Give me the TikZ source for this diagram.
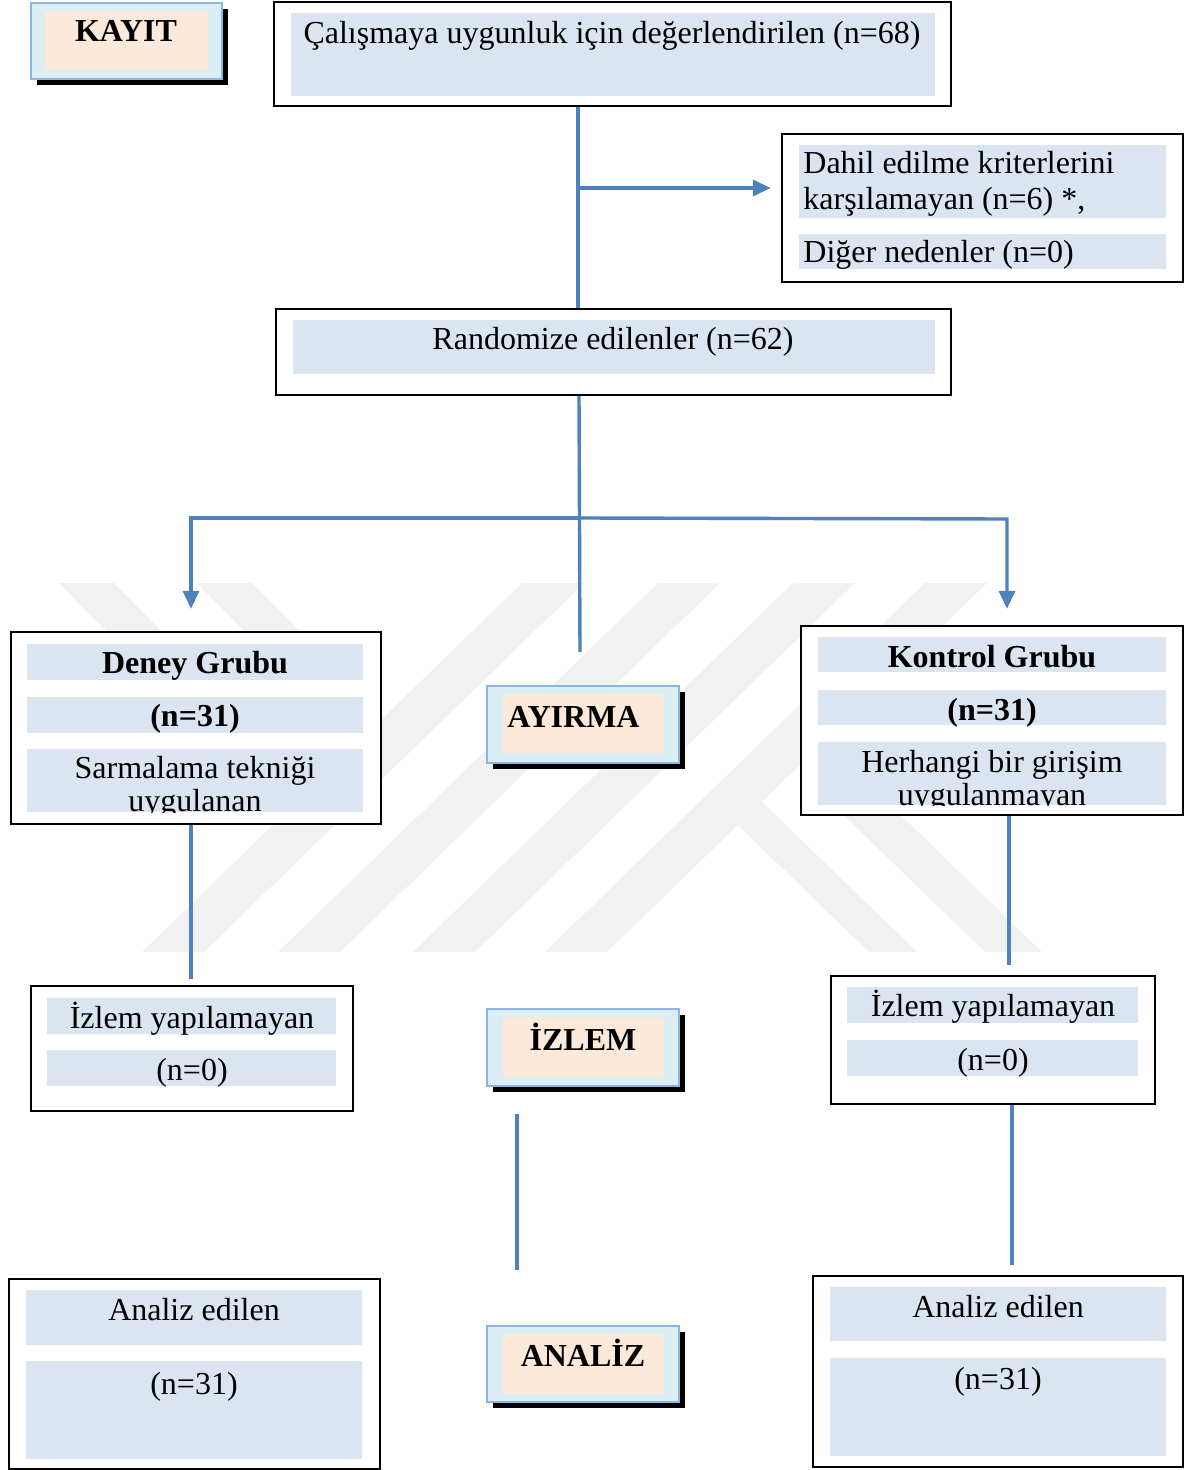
\documentclass[tikz,border=0pt]{standalone}
\usepackage{fontspec}
\setmainfont{Liberation Serif}
\usetikzlibrary{arrows.meta,fit,shadows}
\definecolor{lineblue}{HTML}{4F81BD}
\definecolor{rowblue}{HTML}{DBE5F1}
\definecolor{peach}{HTML}{FDE9D9}
\definecolor{stageblue}{HTML}{DAEEF3}
\definecolor{stageedge}{HTML}{8EB4E3}
\definecolor{wm}{HTML}{F1F1F1}
\begin{document}
\begin{tikzpicture}[x=0.5pt,y=-0.5pt,
  outerbox/.style={draw=black, line width=1.2pt, fill=white, inner sep=0pt},
  row/.style={fill=rowblue},
  conn/.style={draw=lineblue, line width=1.7pt},
  arr/.style={conn, -{Triangle[length=9pt,width=8pt]}},
  txt/.style={font=\fontsize{16}{19}\selectfont, inner sep=0pt, anchor=base},
  btxt/.style={txt, font=\fontsize{16}{19}\selectfont\bfseries},
  ltxt/.style={txt, anchor=base west},
  lbtxt/.style={btxt, anchor=base west},
  stagebox/.style={draw=stageedge, line width=0.6pt, fill=stageblue, inner sep=0pt,
    drop shadow={shadow xshift=3pt, shadow yshift=-3pt, fill=black, opacity=1}},
  wmband/.style={fill=wm},
]
\useasboundingbox (0,0) rectangle (1188,1470);

% faint watermark
\foreach \b in {142,278,413,545}
  \fill[wmband] (\b,952) -- (\b+62,952) -- (\b+442,583) -- (\b+380,583) -- cycle;
\foreach \a in {59,197}
  \fill[wmband] (\a,583) -- (\a+55,583) -- (\a+190,720) -- (\a+135,720) -- cycle;
\fill[wmband] (712,800) -- (760,800) -- (917,952) -- (869,952) -- cycle;
\fill[wmband] (828,800) -- (885,800) -- (1042,952) -- (985,952) -- cycle;

% column coordinates
\coordinate (c578) at (578,0);
\coordinate (c191) at (191,0);
\coordinate (c1009) at (1009,0);
\coordinate (c1012) at (1012,0);
\coordinate (j1) at (578,188);
\coordinate (jm) at (579,518);
\coordinate (jl) at (191,518);
\coordinate (jr) at (1007,519);
\coordinate (jend) at (580,652);
\coordinate (f1) at (517,1114);
\coordinate (f2) at (517,1270);

% KAYIT
\node[stagebox, fit={(31,3)(222,79)}] (kayit) {};
\fill[peach] (45,11) rectangle (208,70);
\node[btxt] (kayitt) at (126,42) {KAYIT};

% eligibility
\node[outerbox, fit={(274,2)(951,106)}] (elig) {};
\fill[row] (291,13) rectangle (935,96);
\node[txt] (eligt) at (612,44) {Çalışmaya uygunluk için değerlendirilen (n=68)};

% excluded
\node[outerbox, fit={(782,134)(1183,282)}] (excl) {};
\fill[row] (799,145) rectangle (1166,218);
\fill[row] (799,234) rectangle (1166,269);
\node[ltxt] (exclt1) at (803,174) {Dahil edilme kriterlerini};
\node[ltxt] (exclt2) at (803,210) {karşılamayan (n=6) *,};
\node[ltxt] (exclt3) at (803,263) {Diğer nedenler (n=0)};

% randomized
\node[outerbox, fit={(276,309)(951,395)}] (rand) {};
\fill[row] (293,320) rectangle (935,374);
\node[txt] (randt) at (613,350) {Randomize edilenler (n=62)};

% Deney grubu
\node[outerbox, fit={(11,632)(381,824)}] (deney) {};
\fill[row] (27,644) rectangle (363,680);
\fill[row] (27,697) rectangle (363,733);
\fill[row] (27,749) rectangle (363,812);
\node[btxt] (deneyt1) at (195,673) {Deney Grubu};
\node[btxt] (deneyt2) at (195,726) {(n=31)};
\begin{scope}
  \clip (27,749) rectangle (363,812);
  \node[txt] (deneyt3) at (195,778) {Sarmalama tekniği};
  \node[txt] (deneyt4) at (195,811) {uygulanan};
\end{scope}

% AYIRMA
\node[stagebox, fit={(487,686)(679,763)}] (ayirma) {};
\fill[peach] (503,694) rectangle (664,753);
\node[lbtxt] (ayirmat) at (507,727) {AYIRMA};

% Kontrol grubu
\node[outerbox, fit={(801,626)(1183,815)}] (kontrol) {};
\fill[row] (818,637) rectangle (1166,672);
\fill[row] (818,690) rectangle (1166,725);
\fill[row] (818,742) rectangle (1166,805);
\node[btxt] (kontrolt1) at (992,667) {Kontrol Grubu};
\node[btxt] (kontrolt2) at (992,720) {(n=31)};
\begin{scope}
  \clip (818,742) rectangle (1166,805);
  \node[txt] (kontrolt3) at (992,772) {Herhangi bir girişim};
  \node[txt] (kontrolt4) at (992,805) {uygulanmayan};
\end{scope}

% Izlem left
\node[outerbox, fit={(31,986)(353,1111)}] (izl) {};
\fill[row] (47,998) rectangle (336,1034);
\fill[row] (47,1050) rectangle (336,1086);
\node[txt] (izlt1) at (192,1028) {İzlem yapılamayan};
\node[txt] (izlt2) at (192,1080) {(n=0)};

% IZLEM stage
\node[stagebox, fit={(487,1009)(679,1086)}] (izlem) {};
\fill[peach] (503,1017) rectangle (664,1077);
\node[btxt] (izlemt) at (583,1050) {İZLEM};

% Izlem right
\node[outerbox, fit={(831,976)(1155,1104)}] (izr) {};
\fill[row] (847,987) rectangle (1138,1023);
\fill[row] (847,1040) rectangle (1138,1076);
\node[txt] (izrt1) at (993,1016) {İzlem yapılamayan};
\node[txt] (izrt2) at (993,1070) {(n=0)};

% Analiz left
\node[outerbox, fit={(9,1279)(380,1469)}] (anl) {};
\fill[row] (26,1290) rectangle (362,1345);
\fill[row] (26,1361) rectangle (362,1459);
\node[txt] (anlt1) at (194,1320) {Analiz edilen};
\node[txt] (anlt2) at (194,1394) {(n=31)};

% ANALIZ stage
\node[stagebox, fit={(487,1326)(679,1402)}] (analiz) {};
\fill[peach] (503,1334) rectangle (664,1394);
\node[btxt] (analizt) at (583,1366) {ANALİZ};

% Analiz right
\node[outerbox, fit={(813,1276)(1183,1467)}] (anr) {};
\fill[row] (830,1287) rectangle (1166,1341);
\fill[row] (830,1358) rectangle (1166,1456);
\node[txt] (anrt1) at (998,1317) {Analiz edilen};
\node[txt] (anrt2) at (998,1389) {(n=31)};

% connectors
\draw[conn] (elig.south -| c578) -- (rand.north -| c578);
\draw[arr, shorten >=5pt] (j1) -- (j1 -| excl.west);
\draw[conn] (rand.south -| jm) -- (jend);
\draw[arr, shorten >=11pt] (jm) -- (jl) -- (deney.north -| jl);
\draw[arr, shorten >=8pt] (jm) -- (jr) -- (kontrol.north -| jr);
\draw[conn] (deney.south -| c191) -- ([yshift=3pt]izl.north -| c191);
\draw[conn] (kontrol.south -| c1009) -- ([yshift=5pt]izr.north -| c1009);
\draw[conn] (f1) -- (f2);
\draw[conn] (izr.south -| c1012) -- ([yshift=5pt]anr.north -| c1012);
\end{tikzpicture}
\end{document}
